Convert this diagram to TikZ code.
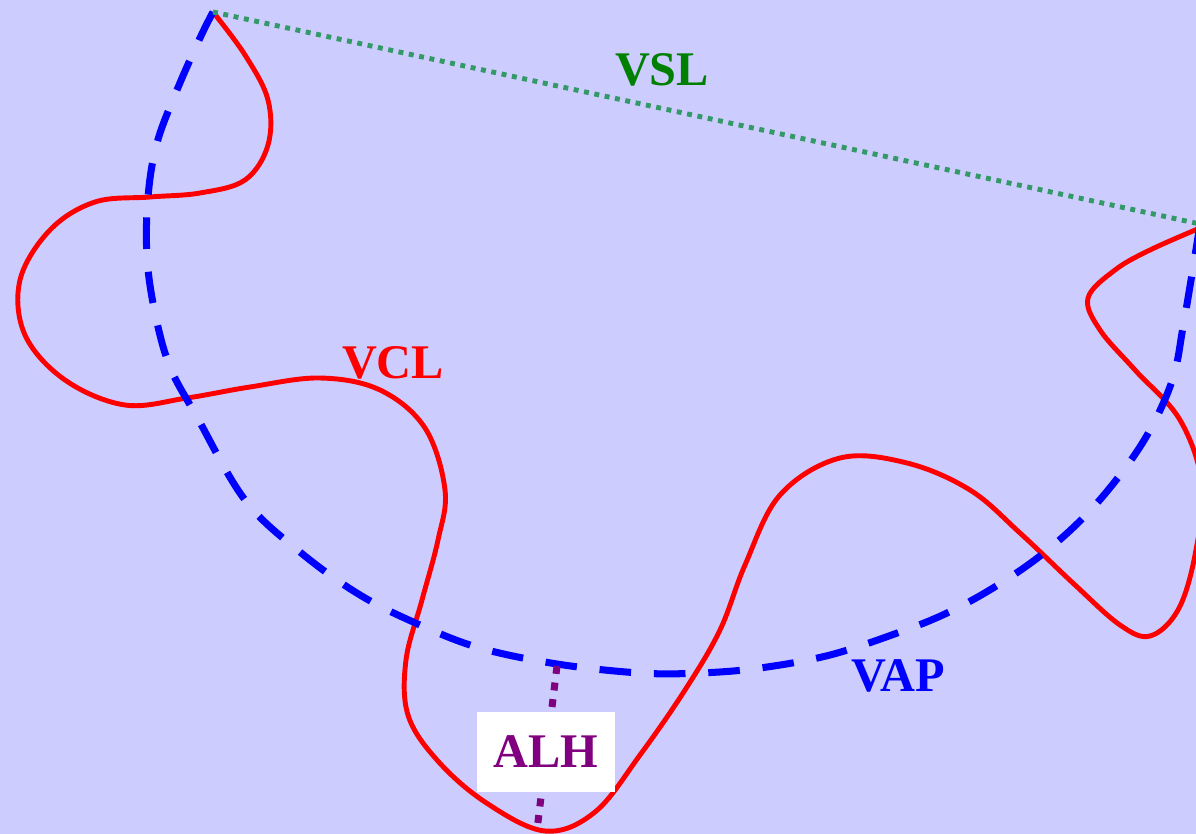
\documentclass[tikz,border=0pt]{standalone}
\usepackage{fontspec}
\setmainfont{Liberation Serif}
\usepackage{xcolor}
\definecolor{bgpurple}{HTML}{CCCCFF}
\definecolor{slgreen}{HTML}{339966}
\definecolor{txtgreen}{HTML}{008000}
\definecolor{lhpurple}{HTML}{800080}

\begin{document}
\begin{tikzpicture}[x=0.02cm, y=-0.02cm,
  lbl/.style={font=\fontsize{27.5}{30}\selectfont\bfseries, inner sep=0pt},
  vclline/.style={red, line width=2.8pt, line join=round},
  vapline/.style={blue, line width=4pt, dash pattern=on 18pt off 13pt},
  vslline/.style={slgreen, line width=2.8pt, dash pattern=on 2.8pt off 3.2pt},
  alhline/.style={lhpurple, line width=4pt, dash pattern=on 4.5pt off 5pt}]
\fill[bgpurple] (0,0) rectangle (1196,834);
\useasboundingbox (0,0) rectangle (1196,834);

\coordinate (apex) at (213,12);
\coordinate (tip) at (1200,224);
\coordinate (alhtop) at (557,666);
\coordinate (alhbot) at (537,830);

% vessel centre line
\draw[vclline] plot[smooth, tension=0.6] coordinates {
  (213,12) (245,55) (268,100) (268,145) (245,180) (200,193) (150,197)
  (95,202) (50,230) (20,280) (25,335) (65,380) (125,405) (187,398)
  (250,387) (320,378) (380,390) (425,428) (445,490) (438,540) (422,600)
  (406,660) (408,715) (437,760) (485,802) (545,831) (595,812) (640,755)
  (685,690) (720,630) (745,565) (780,495) (840,458) (907,463) (970,490)
  (1020,533) (1075,585) (1120,625) (1150,636) (1178,610) (1195,555)
  (1202,485) (1180,420) (1135,370) (1100,330) (1088,298) (1115,270)
  (1150,250) (1200,228)};

% vessel axis path
\draw[vapline] plot[smooth, tension=0.6] coordinates {
  (213,12) (200,38) (177,90) (157,143) (148,197) (147,257) (155,313)
  (170,367) (197,417) (245,500) (300,552) (360,595) (420,625) (480,648)
  (557,664) (640,673) (700,673) (760,668) (830,655) (900,632) (947,613)
  (993,588) (1040,556) (1083,518) (1120,475) (1150,430) (1173,378)
  (1183,327) (1193,268) (1200,224)};

\draw[vslline] (apex) -- (tip);
\draw[alhline] (alhtop) -- (alhbot);

\node (vsl) [lbl, text=txtgreen] at (662,70) {VSL};
\node (vcl) [lbl, text=red] at (393,363) {VCL};
\node (vap) [lbl, text=blue] at (898,676) {VAP};
\node (alh) [lbl, text=lhpurple, fill=white, minimum width=2.78cm, minimum height=1.6cm] at (546,752) {ALH};
\end{tikzpicture}
\end{document}
